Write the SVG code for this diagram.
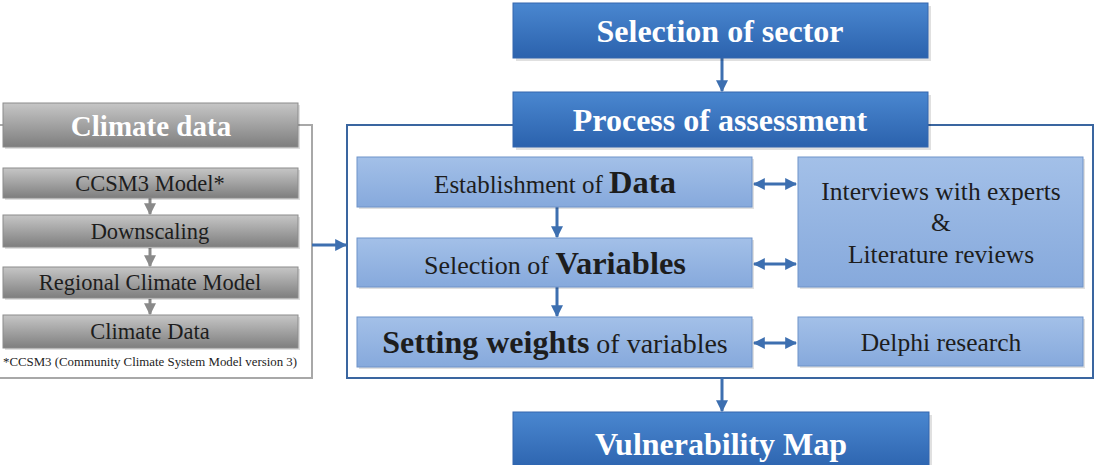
<svg xmlns="http://www.w3.org/2000/svg" width="1100" height="465" viewBox="0 0 1100 465">
<defs>
<linearGradient id="gBlue" x1="0" y1="0" x2="0" y2="1">
<stop offset="0" stop-color="#4a87d0"/><stop offset="1" stop-color="#2b62ad"/>
</linearGradient>
<linearGradient id="gLight" x1="0" y1="0" x2="0" y2="1">
<stop offset="0" stop-color="#a3c0e8"/><stop offset="1" stop-color="#86a9dc"/>
</linearGradient>
<linearGradient id="gGray" x1="0" y1="0" x2="0" y2="1">
<stop offset="0" stop-color="#c6c6c6"/><stop offset="1" stop-color="#7e7e7e"/>
</linearGradient>
<marker id="aBlue" viewBox="0 0 10 10" refX="9" refY="5" markerWidth="4" markerHeight="4" orient="auto-start-reverse">
<path d="M0,0 L10,5 L0,10 z" fill="#3d6fb0"/>
</marker>
<marker id="aGray" viewBox="0 0 10 10" refX="9" refY="5" markerWidth="4" markerHeight="4" orient="auto">
<path d="M0,0 L10,5 L0,10 z" fill="#8a8a8a"/>
</marker>
</defs>
<style>
.blue{fill:url(#gBlue);stroke:#3467ae;stroke-width:1}
.light{fill:url(#gLight);stroke:#6f93c9;stroke-width:1}
.gray{fill:url(#gGray);stroke:#8c8c8c;stroke-width:1}
.sh{fill:#000;opacity:0.12}
.tw{font-family:"Liberation Serif",serif;font-weight:bold;fill:#fff;text-anchor:middle}
.td{font-family:"Liberation Serif",serif;fill:#1d1d1d;text-anchor:middle}
.b{font-family:"Liberation Serif",serif;font-weight:bold}
.cb{stroke:#3d6fb0;stroke-width:3;fill:none}
.cg{stroke:#8a8a8a;stroke-width:3;fill:none}
.frame{fill:none;stroke:#3a66a0;stroke-width:2}
.gframe{fill:none;stroke:#a8a8a8;stroke-width:2}
</style>

<rect class="gframe" x="-2" y="125" width="314" height="253"/>
<rect class="frame" x="347" y="125" width="746" height="253"/>

<g id="connectors">
<line class="cb" x1="722" y1="58" x2="722" y2="91" marker-end="url(#aBlue)"/>
<line class="cb" x1="722" y1="378" x2="722" y2="411" marker-end="url(#aBlue)"/>
<line class="cb" x1="312" y1="245" x2="346" y2="245" marker-end="url(#aBlue)"/>
<line class="cb" x1="557" y1="207" x2="557" y2="237" marker-end="url(#aBlue)"/>
<line class="cb" x1="557" y1="287" x2="557" y2="316" marker-end="url(#aBlue)"/>
<line class="cb" x1="754" y1="184" x2="796" y2="184" marker-start="url(#aBlue)" marker-end="url(#aBlue)"/>
<line class="cb" x1="754" y1="264" x2="796" y2="264" marker-start="url(#aBlue)" marker-end="url(#aBlue)"/>
<line class="cb" x1="754" y1="343" x2="796" y2="343" marker-start="url(#aBlue)" marker-end="url(#aBlue)"/>
<line class="cg" x1="150" y1="198" x2="150" y2="214" marker-end="url(#aGray)"/>
<line class="cg" x1="150" y1="248" x2="150" y2="266" marker-end="url(#aGray)"/>
<line class="cg" x1="150" y1="299" x2="150" y2="314" marker-end="url(#aGray)"/>
</g>

<g id="climate-data">
<rect class="sh" x="5" y="105" width="295" height="44"/>
<rect class="gray" x="3" y="103" width="295" height="44"/>
<text class="tw" x="151" y="136" font-size="29">Climate data</text>
</g>
<g id="ccsm3">
<rect class="sh" x="5" y="170" width="295" height="30"/>
<rect class="gray" x="3" y="168" width="295" height="30"/>
<text class="td" x="150" y="191" font-size="22.5">CCSM3 Model*</text>
</g>
<g id="downscaling">
<rect class="sh" x="5" y="217" width="295" height="32"/>
<rect class="gray" x="3" y="215" width="295" height="32"/>
<text class="td" x="150" y="239" font-size="22.5">Downscaling</text>
</g>
<g id="regional">
<rect class="sh" x="5" y="269" width="295" height="31"/>
<rect class="gray" x="3" y="267" width="295" height="31"/>
<text class="td" x="150" y="290" font-size="22.5">Regional Climate Model</text>
</g>
<g id="climate-data-2">
<rect class="sh" x="5" y="317" width="295" height="33"/>
<rect class="gray" x="3" y="315" width="295" height="33"/>
<text class="td" x="150" y="339" font-size="22.5">Climate Data</text>
</g>
<text class="td" x="150" y="366" font-size="11.5" textLength="294" lengthAdjust="spacingAndGlyphs">*CCSM3 (Community Climate System Model version 3)</text>

<g id="selection-sector">
<rect class="sh" x="516" y="6" width="415" height="55"/>
<rect class="blue" x="513" y="3" width="415" height="55"/>
<text class="tw" x="720" y="42" font-size="32">Selection of sector</text>
</g>
<g id="process">
<rect class="sh" x="516" y="95" width="415" height="55"/>
<rect class="blue" x="513" y="92" width="415" height="55"/>
<text class="tw" x="720" y="131" font-size="32">Process of assessment</text>
</g>
<g id="vulnerability">
<rect class="sh" x="516" y="415" width="416" height="55"/>
<rect class="blue" x="513" y="412" width="416" height="60"/>
<text class="tw" x="721" y="455" font-size="32">Vulnerability Map</text>
</g>

<g id="establishment">
<rect class="sh" x="359" y="159" width="395" height="50"/>
<rect class="light" x="357" y="157" width="395" height="50"/>
<text class="td" x="555" y="193" font-size="25">Establishment of <tspan class="b" font-size="32.5">Data</tspan></text>
</g>
<g id="variables">
<rect class="sh" x="359" y="240" width="395" height="49"/>
<rect class="light" x="357" y="238" width="395" height="49"/>
<text class="td" x="555" y="274" font-size="26">Selection of <tspan class="b" font-size="32.5">Variables</tspan></text>
</g>
<g id="weights">
<rect class="sh" x="359" y="319" width="395" height="50"/>
<rect class="light" x="357" y="317" width="395" height="50"/>
<text class="td" x="555" y="353" font-size="28"><tspan class="b" font-size="32">Setting weights</tspan> of variables</text>
</g>
<g id="interviews">
<rect class="sh" x="800" y="159" width="285" height="130"/>
<rect class="light" x="798" y="157" width="285" height="130"/>
<text class="td" x="941" y="200" font-size="25.5">Interviews with experts</text>
<text class="td" x="941" y="231" font-size="25.5">&amp;</text>
<text class="td" x="941" y="263" font-size="25.5">Literature reviews</text>
</g>
<g id="delphi">
<rect class="sh" x="800" y="319" width="285" height="49"/>
<rect class="light" x="798" y="317" width="285" height="49"/>
<text class="td" x="941" y="351" font-size="25.5">Delphi research</text>
</g>
</svg>
